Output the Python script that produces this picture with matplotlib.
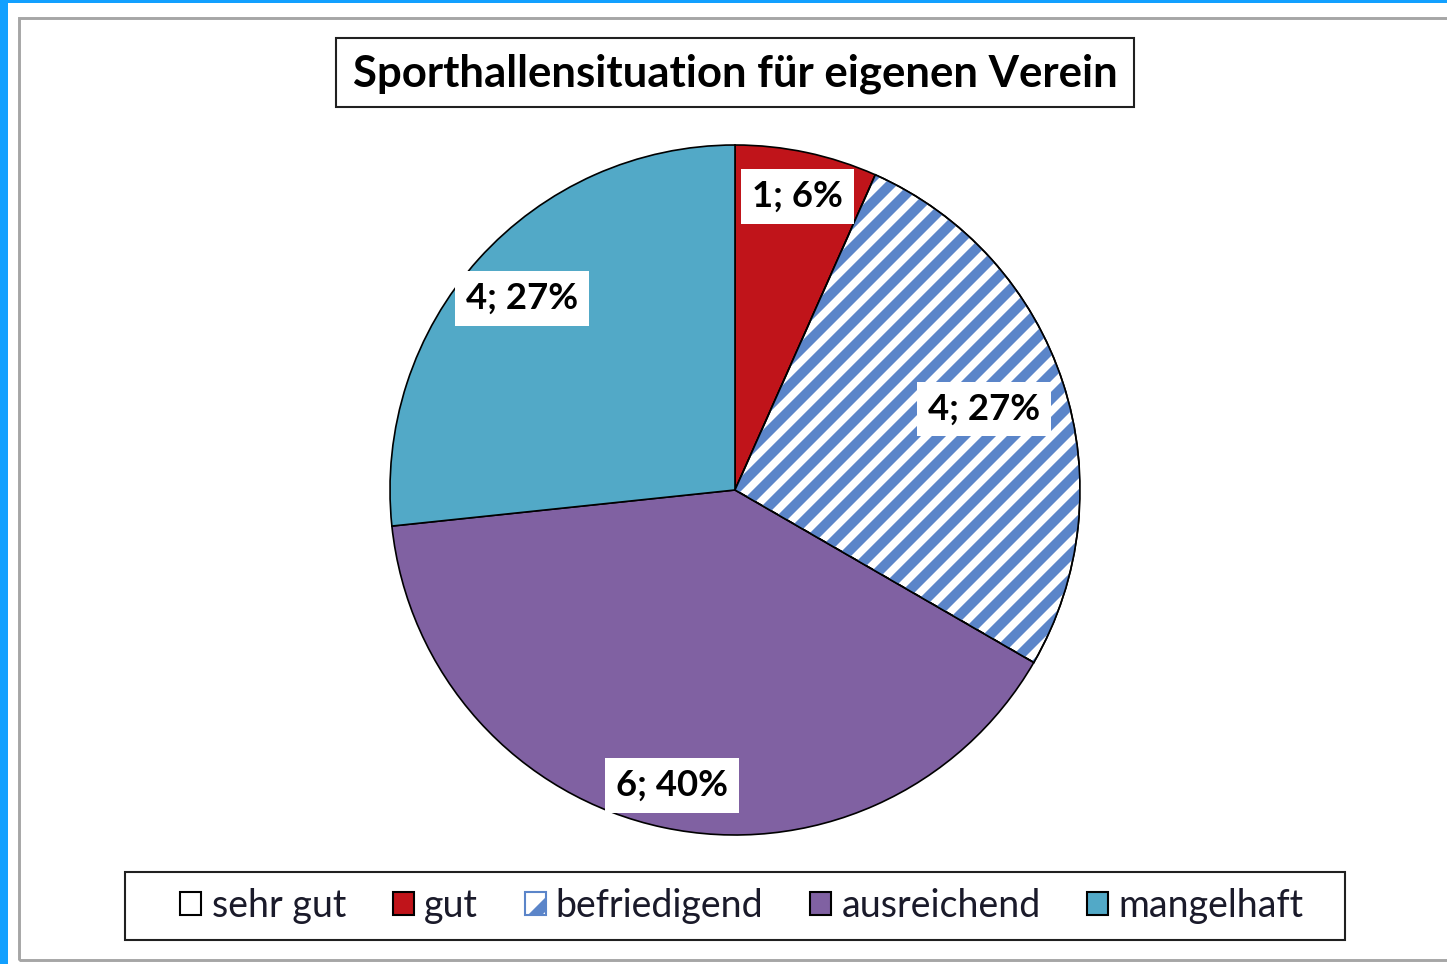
import matplotlib
matplotlib.use("Agg")
import matplotlib.pyplot as plt
from matplotlib.patches import Rectangle, Wedge, Patch
import numpy as np

# data
categories = ["sehr gut", "gut", "befriedigend", "ausreichend", "mangelhaft"]
counts = [0, 1, 4, 6, 4]
pct_labels = ["0; 0%", "1; 6%", "4; 27%", "6; 40%", "4; 27%"]
colors = ["#FFFFFF", "#C0141A", "#FFFFFF", "#8061A2", "#52A9C7"]
hatch_blue = "#5B85C9"

plt.rcParams["font.family"] = ["Lato", "DejaVu Sans"]
plt.rcParams["hatch.linewidth"] = 4.8

W, H, DPI = 1447, 964, 150
fig = plt.figure(figsize=(W / DPI, H / DPI), dpi=DPI)

def fx(px):
    return px / W

def fy(py):
    return 1 - py / H

# outer frame
fig.patches.append(Rectangle((0, 0), fx(8), 1, transform=fig.transFigure,
                             facecolor="#12A0FF", edgecolor="none", zorder=0))
fig.patches.append(Rectangle((0, fy(3)), 1, 3 / H, transform=fig.transFigure,
                             facecolor="#12A0FF", edgecolor="none", zorder=0))
fig.patches.append(Rectangle((fx(19), fy(960)), fx(1460 - 19), (960 - 18) / H,
                             transform=fig.transFigure, facecolor="none",
                             edgecolor="#A6A6A6", lw=1.4, zorder=1))

# pie
cx, cy, r = 735, 490, 345
ax = fig.add_axes([fx(cx - r), fy(cy + r), 2 * r / W, 2 * r / H])
wedges, _ = ax.pie(counts, colors=colors, startangle=90, counterclock=False,
                   radius=1, wedgeprops=dict(edgecolor="black", linewidth=0.8))
ax.set_xlim(-1, 1)
ax.set_ylim(-1, 1)

# stripes on befriedigend
w = wedges[2]
ax.add_patch(Wedge(w.center, w.r, w.theta1, w.theta2, facecolor="none",
                   edgecolor=hatch_blue, hatch="//", lw=0,
                   zorder=w.get_zorder() + 0.1))
ax.add_patch(Wedge(w.center, w.r, w.theta1, w.theta2, facecolor="none",
                   edgecolor="black", lw=0.8, zorder=w.get_zorder() + 0.2))

label_r = [0.8, 0.87, 0.76, 0.875, 0.83]
for i, wd in enumerate(wedges):
    if counts[i] == 0:
        continue
    a = np.deg2rad((wd.theta1 + wd.theta2) / 2)
    ax.text(label_r[i] * np.cos(a), label_r[i] * np.sin(a), pct_labels[i],
            ha="center", va="center", fontsize=17.5, fontweight="bold",
            color="black", zorder=10,
            bbox=dict(boxstyle="square,pad=0.3", facecolor="white",
                      edgecolor="none"))

# title
fig.patches.append(Rectangle((fx(336), fy(107)), fx(1134 - 336), (107 - 38) / H,
                             transform=fig.transFigure, facecolor="white",
                             edgecolor="#202020", lw=1.0, zorder=2))
fig.text(fx(735), fy(74), "Sporthallensituation für eigenen Verein",
         ha="center", va="center", fontsize=21, fontweight="bold",
         color="black", zorder=3)

# legend
fig.patches.append(Rectangle((fx(125), fy(940)), fx(1345 - 125), (940 - 872) / H,
                             transform=fig.transFigure, facecolor="white",
                             edgecolor="#202020", lw=1.0, zorder=2))
handles = []
for i, c in enumerate(categories):
    if i == 2:
        handles.append(Patch(facecolor="white", edgecolor=hatch_blue, hatch="/", lw=1))
    else:
        handles.append(Patch(facecolor=colors[i], edgecolor="black", lw=1))
leg = fig.legend(handles, categories, loc="center", bbox_to_anchor=(fx(742), fy(906)),
                 ncol=5, frameon=False, fontsize=18, handlelength=0.56,
                 handleheight=0.56, handletextpad=0.27, columnspacing=1.25,
                 labelcolor="#1a1a2a")
leg.set_zorder(5)

fig.savefig("out.png", dpi=DPI)
